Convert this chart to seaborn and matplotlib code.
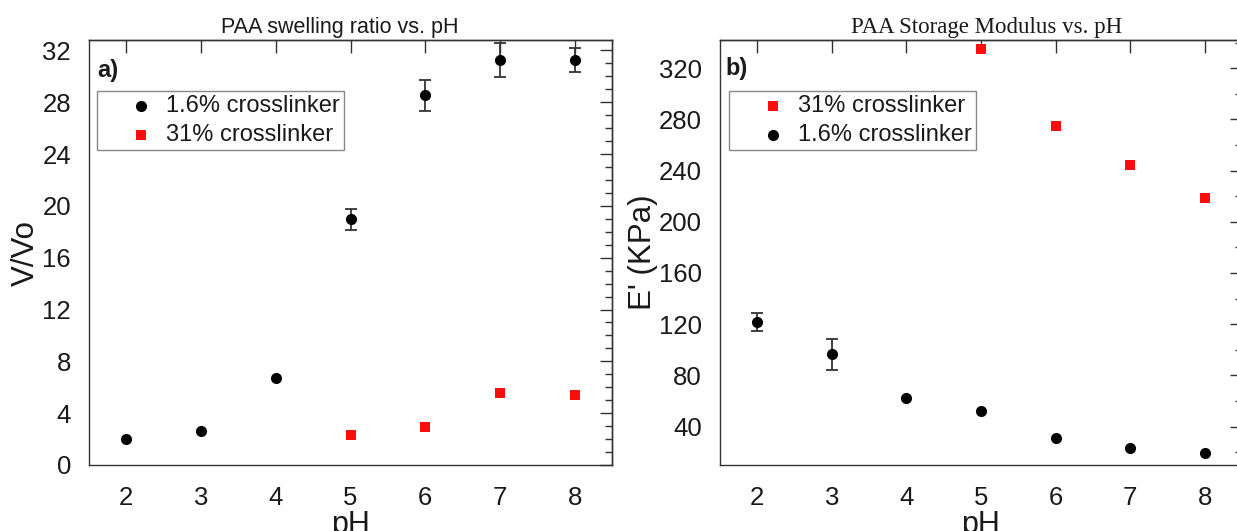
import matplotlib
matplotlib.use("Agg")
import matplotlib.pyplot as plt
import seaborn as sns
import numpy as np
import pandas as pd

# ---------------- data ----------------
ph_all = [2, 3, 4, 5, 6, 7, 8]
ph_high = [5, 6, 7, 8]

swell_low = [2.0, 2.62, 6.73, 18.97, 28.55, 31.25, 31.25]
swell_low_err = [0, 0, 0, 0.8, 1.2, 1.3, 0.95]
swell_high = [2.29, 2.93, 5.58, 5.42]

mod_high = [335.0, 274.5, 244.6, 218.5]
mod_low = [121.9, 96.4, 62.6, 52.0, 31.4, 23.1, 19.7]
mod_low_err = [7.0, 12.0, 0, 0, 0, 0, 0]

label_low = "1.6% crosslinker"
label_high = "31% crosslinker"
title_a = "PAA swelling ratio vs. pH"
title_b = "PAA Storage Modulus vs. pH"
xlab = "pH"
ylab_a = "V/Vo"
ylab_b = "E' (KPa)"

# ---------------- style ----------------
sns.set_theme(style="white")
plt.rcParams["font.family"] = ["Liberation Sans", "DejaVu Sans"]
plt.rcParams["axes.edgecolor"] = "#333333"
plt.rcParams["axes.linewidth"] = 1.0
plt.rcParams["text.color"] = "#1a1a1a"
plt.rcParams["axes.labelcolor"] = "#1a1a1a"
plt.rcParams["xtick.color"] = "#333333"
plt.rcParams["ytick.color"] = "#333333"
plt.rcParams["xtick.labelcolor"] = "#1a1a1a"
plt.rcParams["ytick.labelcolor"] = "#1a1a1a"

RED = "#ff0d0d"
BLACK = "#000000"
TICK_FS = 18.5
LEG_FS = 17
LAB_FS = 22.5

W, H = 1237, 531
fig = plt.figure(figsize=(W / 100, H / 100), dpi=100)
fig.patch.set_facecolor("white")

ax1 = fig.add_axes([89 / W, 1 - 465 / H, (612 - 89) / W, (465 - 40) / H])
ax2 = fig.add_axes([720 / W, 1 - 465 / H, (1242 - 720) / W, (465 - 40) / H])

df_low_a = pd.DataFrame({"pH": ph_all, "v": swell_low, "e": swell_low_err})
df_high_a = pd.DataFrame({"pH": ph_high, "v": swell_high})
df_low_b = pd.DataFrame({"pH": ph_all, "v": mod_low, "e": mod_low_err})
df_high_b = pd.DataFrame({"pH": ph_high, "v": mod_high})


def add_err(ax, df):
    d = df[df["e"] > 0]
    ax.errorbar(d["pH"], d["v"], yerr=d["e"], fmt="none", ecolor="#333333",
                elinewidth=1.3, capsize=4, capthick=1.3, zorder=2)


CIRC_S = 64
SQ_S = 44

# panel a
add_err(ax1, df_low_a)
sns.scatterplot(data=df_low_a, x="pH", y="v", ax=ax1, marker="o", s=CIRC_S,
                color=BLACK, edgecolor=BLACK, linewidth=0, label=label_low, zorder=3)
sns.scatterplot(data=df_high_a, x="pH", y="v", ax=ax1, marker="s", s=SQ_S,
                color=RED, edgecolor=RED, linewidth=0, label=label_high, zorder=3)

# panel b
add_err(ax2, df_low_b)
sns.scatterplot(data=df_high_b, x="pH", y="v", ax=ax2, marker="s", s=SQ_S,
                color=RED, edgecolor=RED, linewidth=0, label=label_high, zorder=3)
sns.scatterplot(data=df_low_b, x="pH", y="v", ax=ax2, marker="o", s=CIRC_S,
                color=BLACK, edgecolor=BLACK, linewidth=0, label=label_low, zorder=3)


def style_axes(ax, ylim, ymaj, ymin_step):
    ax.set_xlim(1.5, 8.5)
    ax.set_ylim(*ylim)
    ax.set_xticks(ph_all)
    yt = np.arange(ymaj[0], ymaj[1] + 0.1, ymaj[2])
    ax.set_yticks(yt)
    ymn = np.arange(ymaj[0] - ymin_step, ylim[1], ymin_step)
    ymn = [v for v in ymn if ylim[0] <= v <= ylim[1]]
    ax.set_yticks(ymn, minor=True)
    ax.tick_params(axis="both", which="major", direction="out", length=9,
                   width=1.0, labelsize=TICK_FS, pad=4)
    ax.tick_params(axis="x", which="major", pad=6)
    ax.tick_params(axis="y", which="minor", direction="out", length=5, width=1.0)
    ax.tick_params(top=False, right=False)
    for s in ax.spines.values():
        s.set_visible(True)
    # inward ticks on top and right
    sx = ax.secondary_xaxis("top")
    sx.set_xticks(ph_all)
    sx.tick_params(direction="in", length=9, width=1.0, labeltop=False)
    sy = ax.secondary_yaxis("right")
    sy.set_yticks(yt)
    sy.set_yticks(ymn, minor=True)
    sy.tick_params(which="major", direction="in", length=9, width=1.0, labelright=False)
    sy.tick_params(which="minor", direction="in", length=5, width=1.0, labelright=False)
    ax.grid(False)


style_axes(ax1, (0, 32.8), (0, 32, 4), 1)
style_axes(ax2, (10, 342), (40, 320, 40), 20)

ax1.set_xlabel(xlab, fontsize=22, labelpad=0)
ax2.set_xlabel(xlab, fontsize=22, labelpad=0)
ax1.set_ylabel(ylab_a, fontsize=LAB_FS, labelpad=1)
ax2.set_ylabel(ylab_b, fontsize=LAB_FS, labelpad=1)

ax1.set_title(title_a, fontsize=15.5, pad=5, x=0.48)
ax2.set_title(title_b, fontsize=16.5, pad=5, x=0.511,
              fontfamily=["Liberation Serif", "DejaVu Serif"])

ax1.text(0.015, 0.955, "a)", transform=ax1.transAxes, ha="left", va="top",
         fontsize=17, fontweight="bold")
ax2.text(0.01, 0.96, "b)", transform=ax2.transAxes, ha="left", va="top",
         fontsize=17, fontweight="bold")

for ax, x0 in ((ax1, 8 / 523), (ax2, 9 / 522)):
    leg = ax.legend(loc="upper left", bbox_to_anchor=(x0, 0.88), borderaxespad=0,
                    fontsize=LEG_FS, frameon=True, fancybox=False, framealpha=1,
                    edgecolor="#888888", handlelength=3.4, handletextpad=-0.62,
                    borderpad=0.16, labelspacing=0.3, scatterpoints=1)
    leg.get_frame().set_linewidth(1.0)

fig.savefig("out.png", dpi=100, facecolor="white")
